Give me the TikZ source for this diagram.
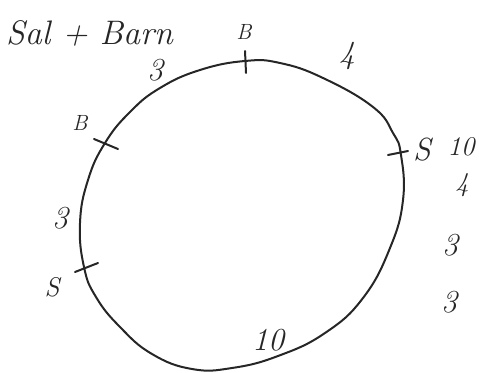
\documentclass[tikz,border=0pt]{standalone}
\usetikzlibrary{calc}
\tikzset{
  ink/.style={draw=black!85, line width=2pt, line cap=round, line join=round},
  tick/.style={draw=black!85, line width=2pt, line cap=round},
  title/.style={font=\fontsize{34}{36}\selectfont\itshape, text=black!85, inner sep=0pt},
  big/.style={font=\fontsize{32}{34}\selectfont\itshape, text=black!85, inner sep=0pt},
  mid/.style={font=\fontsize{27}{29}\selectfont\itshape, text=black!85, inner sep=0pt},
  small/.style={font=\fontsize{22}{24}\selectfont\itshape, text=black!85, inner sep=0pt}
}
\begin{document}
\begin{tikzpicture}[x=1pt,y=-1pt]
\useasboundingbox (0,0) rectangle (479,372);
% loop
\draw[ink] plot[smooth cycle, tension=0.75] coordinates {
 (245,61) (280,63) (323,78) (373,107) (393,133) (401,155) (403,200)
 (390,248) (363,298) (325,333) (278,356) (232,368) (192,369) (152,354)
 (120,327) (96,297) (84,267) (80,223) (88,180) (105,143) (130,112)
 (160,88) (200,70)};
% ticks
\coordinate (tb1) at (245,51); \coordinate (tb2) at (246,73);
\draw[tick] (tb1) -- (tb2);
\coordinate (rs1) at (388,155); \coordinate (rs2) at (408,151);
\draw[tick] (rs1) -- (rs2);
\coordinate (lb1) at (94,139); \coordinate (lb2) at (118,149);
\draw[tick] (lb1) -- (lb2);
\coordinate (ls1) at (75,272); \coordinate (ls2) at (98,263);
\draw[tick] (ls1) -- (ls2);
% labels
\node[title, anchor=west] (ttl) at (6,33) {Sal + Barn};
\node[small] (Btop) at (244,32) {B};
\node[big] (t3) at (155,70) {3};
\node[big] (t4) at (347,56) {4};
\node[big] (Sr) at (422,150) {S};
\node[mid] (r10) at (461,147) {10};
\node[mid] (r4) at (462,185) {4};
\node[big] (r3a) at (450,245) {3};
\node[big] (r3b) at (449,302) {3};
\node[small] (Bl) at (80,123) {B};
\node[big] (l3) at (60,218) {3};
\node[mid] (Sl) at (52,287) {S};
\node[big] (b10) at (268,340) {10};
\end{tikzpicture}
\end{document}
